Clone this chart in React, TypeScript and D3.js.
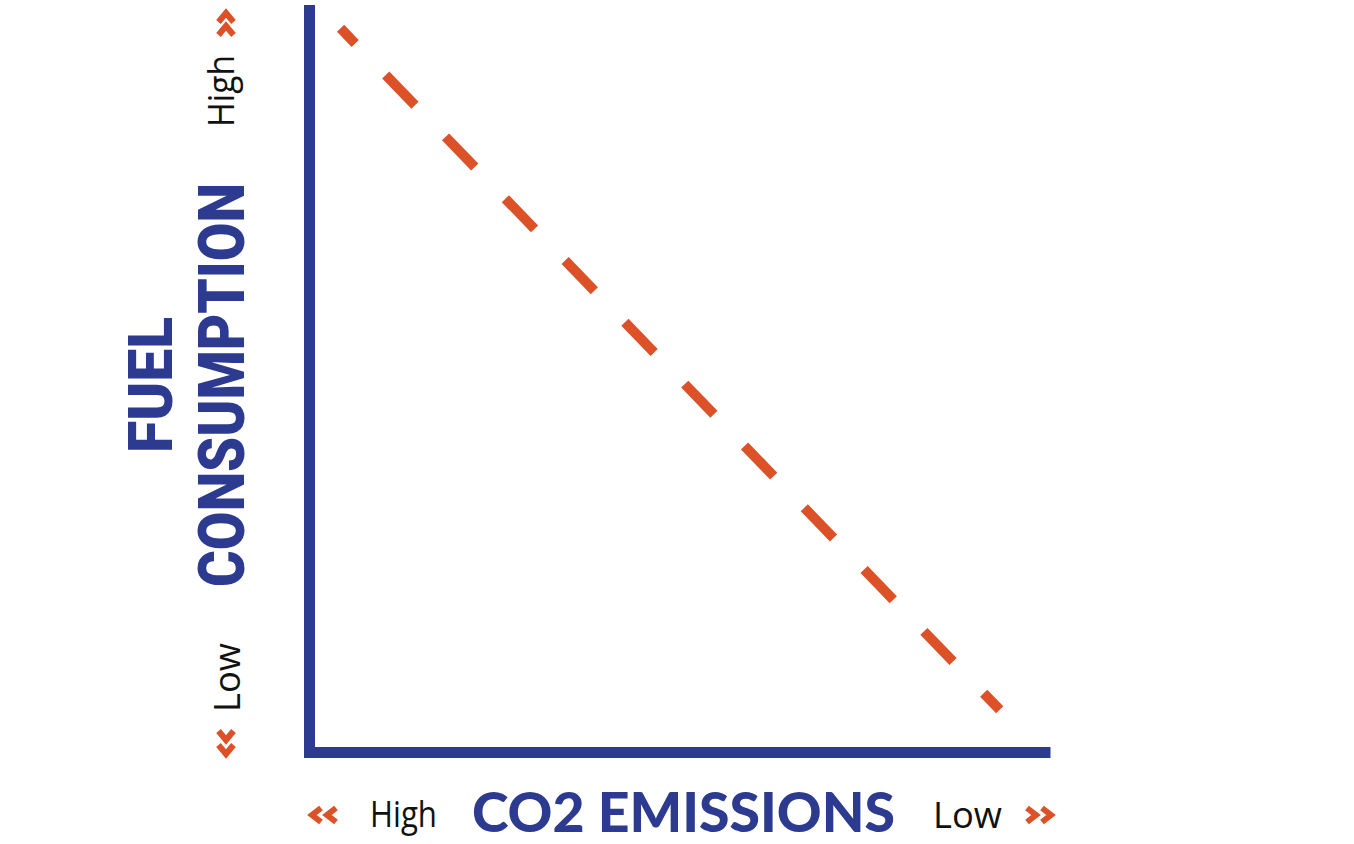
import React from "react";
import * as d3 from "d3";

// ---- data ----
const xAxisTitle = "CO2 EMISSIONS";
const yAxisTitle = ["FUEL", "CONSUMPTION"];
const xEndLabels = ["High", "Low"]; // left end, right end
const yEndLabels = ["Low", "High"]; // bottom end, top end
const trendX = [4.9, 93.2];
const trendY = [96.9, 6.4];

const BLUE = "#2c3a8f";
const ORANGE = "#dc5128";
const W = 1354;
const H = 844;

function chevronPath(tx: number, ty: number, dir: "left" | "right" | "up" | "down", w: number, h: number) {
  const p = d3.path();
  if (dir === "left") {
    p.moveTo(tx + w, ty - h / 2); p.lineTo(tx, ty); p.lineTo(tx + w, ty + h / 2);
  } else if (dir === "right") {
    p.moveTo(tx - w, ty - h / 2); p.lineTo(tx, ty); p.lineTo(tx - w, ty + h / 2);
  } else if (dir === "up") {
    p.moveTo(tx - h / 2, ty + w); p.lineTo(tx, ty); p.lineTo(tx + h / 2, ty + w);
  } else {
    p.moveTo(tx - h / 2, ty - w); p.lineTo(tx, ty); p.lineTo(tx + h / 2, ty - w);
  }
  return p.toString();
}

export default function App() {
  const x = d3.scaleLinear().domain([0, 100]).range([304, 1050.5]);
  const y = d3.scaleLinear().domain([0, 100]).range([758, 5]);
  const line = d3
    .line<number>()
    .x((_, i) => x(trendX[i]))
    .y((_, i) => y(trendY[i]));
  const trendPath = line(trendX) || "";

  const heavy = { fontFamily: "Roboto, Lato, 'DejaVu Sans', sans-serif", fontWeight: 900, fill: BLUE } as const;
  const heavyX = { fontFamily: "Lato, Roboto, sans-serif", fontWeight: 900, fill: BLUE } as const;
  const light = { fontFamily: "'Open Sans', 'Noto Sans', sans-serif", fontWeight: 400, fill: "#111" } as const;

  const chevStyle = { fill: "none", stroke: ORANGE, strokeWidth: 6, strokeLinejoin: "miter" as const, strokeMiterlimit: 10 };

  return (
    <svg width={W} height={H} style={{ position: "absolute", left: 0, top: 0, background: "#fff" }}>
      {/* axes */}
      <line x1={x(0) + 5.5} x2={x(0) + 5.5} y1={y(100)} y2={y(0)} stroke={BLUE} strokeWidth={11} />
      <line x1={x(0)} x2={x(100)} y1={y(0) - 5.5} y2={y(0) - 5.5} stroke={BLUE} strokeWidth={11} />

      {/* trend */}
      <path d={trendPath} fill="none" stroke={ORANGE} strokeWidth={10} strokeDasharray="42 44" strokeDashoffset={21} />

      {/* y end labels */}
      <text transform="translate(234,127) rotate(-90)" fontSize={37} textLength={72} lengthAdjust="spacingAndGlyphs" style={light}>
        {yEndLabels[1]}
      </text>
      <text transform="translate(240,712) rotate(-90)" fontSize={37} textLength={69} lengthAdjust="spacingAndGlyphs" style={light}>
        {yEndLabels[0]}
      </text>
      {/* y title */}
      <text transform="translate(172,453) rotate(-90)" fontSize={62} textLength={136} lengthAdjust="spacingAndGlyphs" style={heavy}>
        {yAxisTitle[0]}
      </text>
      <text transform="translate(244,587) rotate(-90)" fontSize={64} textLength={404} lengthAdjust="spacingAndGlyphs" style={heavy}>
        {yAxisTitle[1]}
      </text>

      {/* x end labels */}
      <text x={370} y={827} fontSize={37} textLength={67} lengthAdjust="spacingAndGlyphs" style={light}>
        {xEndLabels[0]}
      </text>
      <text x={933} y={828} fontSize={37} textLength={69} lengthAdjust="spacingAndGlyphs" style={light}>
        {xEndLabels[1]}
      </text>
      {/* x title */}
      <text x={472} y={832} fontSize={55} textLength={423} lengthAdjust="spacingAndGlyphs" style={heavyX}>
        {xAxisTitle}
      </text>

      {/* chevrons */}
      <path d={chevronPath(312, 815, "left", 9, 14)} style={chevStyle} />
      <path d={chevronPath(327, 815, "left", 9, 14)} style={chevStyle} />
      <path d={chevronPath(1036, 815, "right", 9, 14)} style={chevStyle} />
      <path d={chevronPath(1051, 815, "right", 9, 14)} style={chevStyle} />
      <path d={chevronPath(226, 13, "up", 9, 15)} style={chevStyle} />
      <path d={chevronPath(226, 26, "up", 9, 15)} style={chevStyle} />
      <path d={chevronPath(226, 740, "down", 9, 15)} style={chevStyle} />
      <path d={chevronPath(226, 754, "down", 9, 15)} style={chevStyle} />
    </svg>
  );
}
